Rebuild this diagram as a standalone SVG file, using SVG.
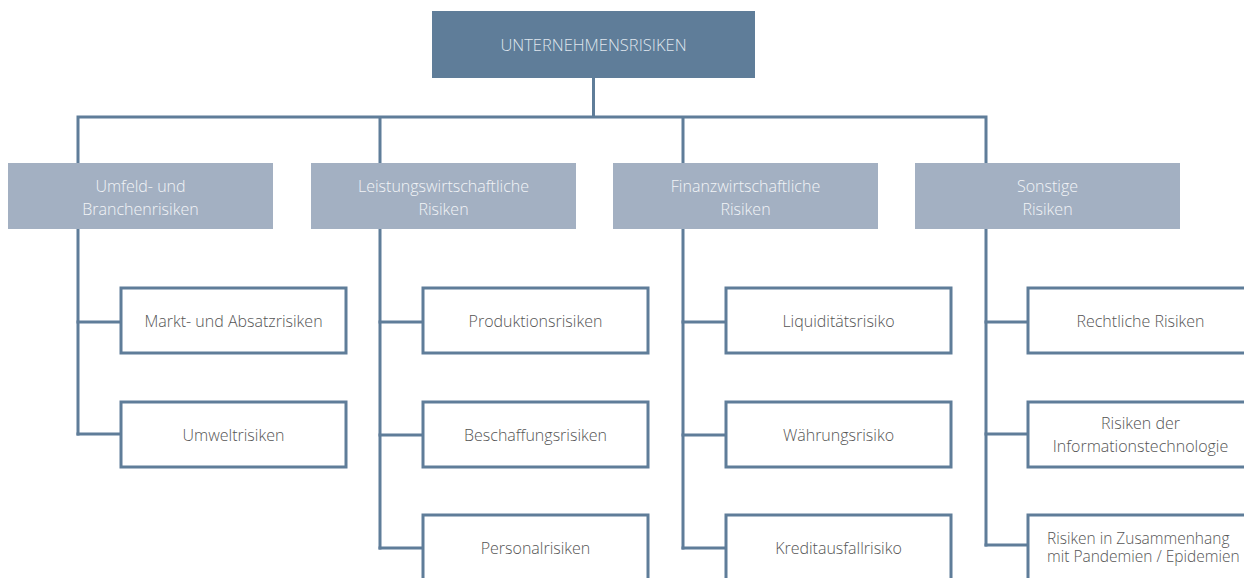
<svg xmlns="http://www.w3.org/2000/svg" width="1244" height="578" viewBox="0 0 1244 578">
<style>
.ln{stroke:#5f7d99;stroke-width:3;fill:none;stroke-linecap:square}
.top{fill:#5f7d99}
.cat{fill:#a3b0c2}
.leaf{fill:#ffffff;stroke:#5f7d99;stroke-width:3}
text{font-family:"Open Sans",Roboto,"Liberation Sans",sans-serif;font-weight:300;font-size:16px}
.tt{fill:#dfe6ee;text-anchor:middle;font-size:16.5px}
.ct{fill:#f2f4f7;text-anchor:middle}
.lt{fill:#555555;text-anchor:middle}
.sm{font-size:15.5px;text-anchor:start}
</style>
<g id="connectors">
<path class="ln" d="M593.5 78V117M78 117H986M78 117V434M380 117V548M683 117V548M986 117V545"/>
<path class="ln" d="M78 322H121M78 434H121M380 322H423M380 435H423M380 548H423M683 322H726M683 435H726M683 548H726M986 322H1028M986 434H1028M986 545H1028"/>
</g>
<g id="n-root"><rect class="top" x="432" y="11" width="323" height="67"/><text class="tt" x="593.5" y="51">UNTERNEHMENSRISIKEN</text></g>
<g id="n-umfeld"><rect class="cat" x="8" y="163" width="265" height="66"/><text class="ct" x="140.5" y="192">Umfeld- und</text><text class="ct" x="140.5" y="215">Branchenrisiken</text></g>
<g id="n-leistung"><rect class="cat" x="311" y="163" width="265" height="66"/><text class="ct" x="443.5" y="192">Leistungswirtschaftliche</text><text class="ct" x="443.5" y="215">Risiken</text></g>
<g id="n-finanz"><rect class="cat" x="613" y="163" width="265" height="66"/><text class="ct" x="745.5" y="192">Finanzwirtschaftliche</text><text class="ct" x="745.5" y="215">Risiken</text></g>
<g id="n-sonstige"><rect class="cat" x="915" y="163" width="265" height="66"/><text class="ct" x="1047.5" y="192">Sonstige</text><text class="ct" x="1047.5" y="215">Risiken</text></g>
<g id="n-markt"><rect class="leaf" x="121" y="288" width="225" height="65"/><text class="lt" x="233.5" y="327">Markt- und Absatzrisiken</text></g>
<g id="n-umwelt"><rect class="leaf" x="121" y="402" width="225" height="65"/><text class="lt" x="233.5" y="441">Umweltrisiken</text></g>
<g id="n-produktion"><rect class="leaf" x="423" y="288" width="225" height="65"/><text class="lt" x="535.5" y="327">Produktionsrisiken</text></g>
<g id="n-beschaffung"><rect class="leaf" x="423" y="402" width="225" height="65"/><text class="lt" x="535.5" y="441">Beschaffungsrisiken</text></g>
<g id="n-personal"><rect class="leaf" x="423" y="515" width="225" height="65"/><text class="lt" x="535.5" y="554">Personalrisiken</text></g>
<g id="n-liquiditaet"><rect class="leaf" x="726" y="288" width="225" height="65"/><text class="lt" x="838.5" y="327">Liquiditätsrisiko</text></g>
<g id="n-waehrung"><rect class="leaf" x="726" y="402" width="225" height="65"/><text class="lt" x="838.5" y="441">Währungsrisiko</text></g>
<g id="n-kredit"><rect class="leaf" x="726" y="515" width="225" height="65"/><text class="lt" x="838.5" y="554">Kreditausfallrisiko</text></g>
<g id="n-recht"><rect class="leaf" x="1028" y="288" width="225" height="65"/><text class="lt" x="1140.5" y="327">Rechtliche Risiken</text></g>
<g id="n-it"><rect class="leaf" x="1028" y="402" width="225" height="65"/><text class="lt" x="1140.5" y="429">Risiken der</text><text class="lt" x="1140.5" y="452">Informationstechnologie</text></g>
<g id="n-pandemie"><rect class="leaf" x="1028" y="515" width="225" height="65"/><text class="lt sm" x="1047" y="544">Risiken in Zusammenhang</text><text class="lt sm" x="1047" y="562">mit Pandemien / Epidemien</text></g>
</svg>
